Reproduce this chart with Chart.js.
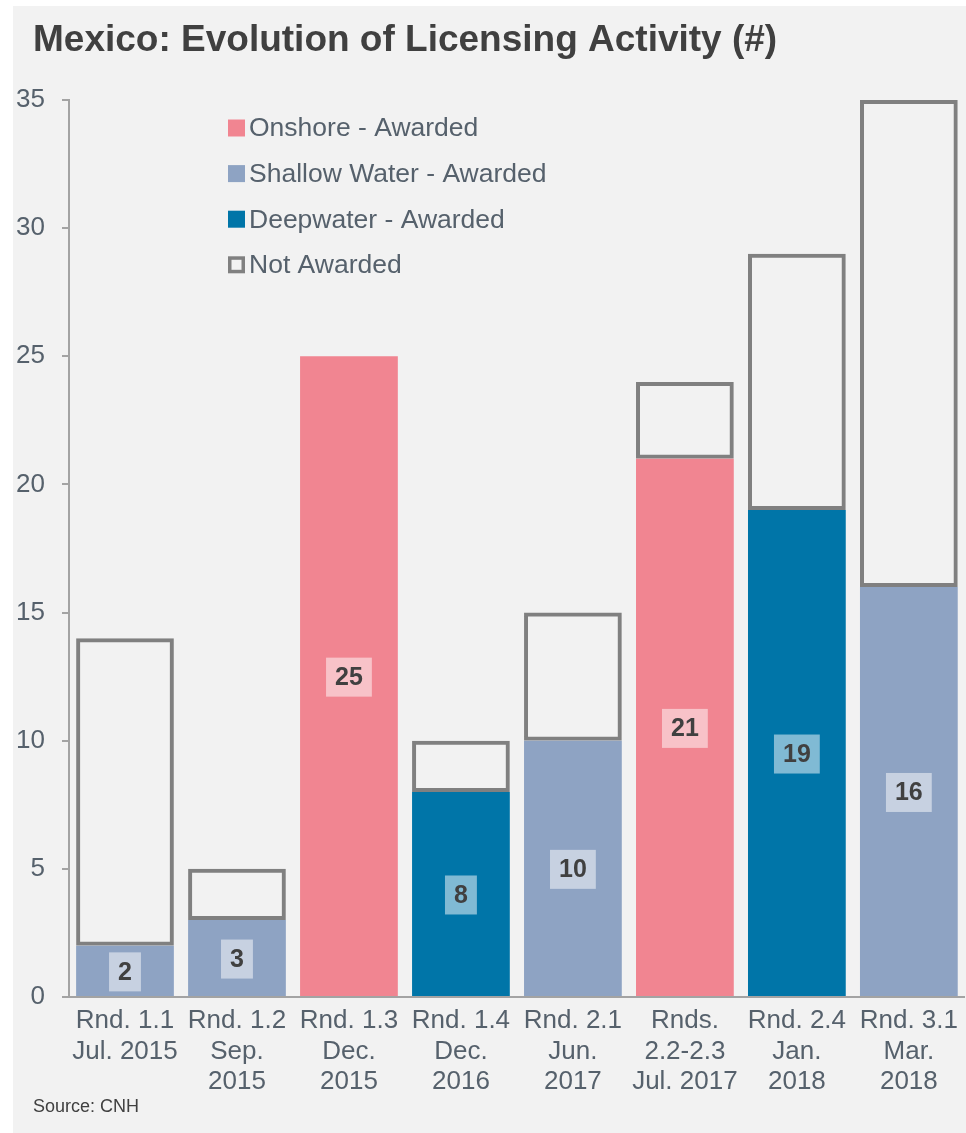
<!DOCTYPE html>
<html>
<head>
<meta charset="utf-8">
<script src="https://cdn.jsdelivr.net/npm/chart.js@4"></script>
<style>
  html, body { margin: 0; padding: 0; background: #ffffff; overflow: hidden; }
  .wrap { position: absolute; left: 13px; top: 6px; width: 954px; height: 1127px; background: #f2f2f2; }
</style>
</head>
<body>
<div class="wrap"><canvas id="licensing"></canvas></div>
<script>
const FONT = "'Liberation Sans', Arial, sans-serif";

/* ---------- Data ---------- */
const rounds = [
  ["Rnd. 1.1", "Jul. 2015"],
  ["Rnd. 1.2", "Sep.", "2015"],
  ["Rnd. 1.3", "Dec.", "2015"],
  ["Rnd. 1.4", "Dec.", "2016"],
  ["Rnd. 2.1", "Jun.", "2017"],
  ["Rnds.", "2.2-2.3", "Jul. 2017"],
  ["Rnd. 2.4", "Jan.", "2018"],
  ["Rnd. 3.1", "Mar.", "2018"]
];
const onshoreAwarded  = [0, 0, 25, 0, 0, 21, 0, 0];
const shallowAwarded  = [2, 3, 0, 0, 10, 0, 0, 16];
const deepAwarded     = [0, 0, 0, 8, 0, 0, 19, 0];
const notAwarded      = [12, 2, 0, 2, 5, 3, 10, 19];
const yTicks          = [0, 5, 10, 15, 20, 25, 30, 35];

/* ---------- Value boxes on the awarded segment ---------- */
const valueBoxPlugin = {
  id: "valueBoxes",
  afterDatasetsDraw(chart) {
    const { ctx } = chart;
    ctx.save();
    ctx.font = `bold 25px ${FONT}`;
    ctx.textAlign = "center";
    ctx.textBaseline = "middle";
    [0, 1, 2].forEach(di => {
      const meta = chart.getDatasetMeta(di);
      const vals = chart.data.datasets[di].data;
      meta.data.forEach((bar, i) => {
        const v = vals[i];
        if (!v) return;
        const { x, y, base } = bar.getProps(["x", "y", "base"], true);
        const cy = (y + base) / 2 + 1;
        const txt = String(v);
        const w = ctx.measureText(txt).width + 18;
        const h = 39;
        ctx.fillStyle = "rgba(255,255,255,0.5)";
        ctx.fillRect(x - w / 2, cy - h / 2, w, h);
        ctx.fillStyle = "#404040";
        ctx.fillText(txt, x, cy + 1);
      });
    });
    ctx.restore();
  }
};

/* ---------- Legend inside the plot, stacked vertically ---------- */
const innerLegendPlugin = {
  id: "innerLegend",
  afterDraw(chart, args, opts) {
    const { ctx, chartArea } = chart;
    const x0 = chartArea.left + opts.dx;
    let y = chartArea.top + opts.dy;
    ctx.save();
    ctx.font = `26.5px ${FONT}`;
    ctx.textBaseline = "middle";
    ctx.textAlign = "left";
    chart.data.datasets.forEach(ds => {
      const s = 17;
      if (ds.borderWidth) {
        ctx.fillStyle = "#f2f2f2";
        ctx.fillRect(x0, y - s / 2, s, s);
        ctx.strokeStyle = ds.borderColor;
        ctx.lineWidth = 3.5;
        ctx.strokeRect(x0 + 1.75, y - s / 2 + 1.75, s - 3.5, s - 3.5);
      } else {
        ctx.fillStyle = ds.backgroundColor;
        ctx.fillRect(x0, y - s / 2, s, s);
      }
      ctx.fillStyle = "#56616c";
      ctx.fillText(ds.label, x0 + 21, y + 1);
      y += opts.gap;
    });
    ctx.restore();
  }
};

/* ---------- Title and source note (left-indented text) ---------- */
const headerFooterPlugin = {
  id: "headerFooter",
  afterDraw(chart, args, opts) {
    const { ctx } = chart;
    ctx.save();
    ctx.textBaseline = "middle";
    ctx.textAlign = "left";
    ctx.fillStyle = "#404040";
    ctx.font = `bold 37px ${FONT}`;
    ctx.fillText(opts.title, 20, 35);
    ctx.font = `18px ${FONT}`;
    ctx.fillText(opts.source, 20, 1101);
    ctx.restore();
  }
};

const axisGray = "#a3a3a3";
const textGray = "#56616c";

new Chart(document.getElementById("licensing"), {
  type: "bar",
  data: {
    labels: rounds,
    datasets: [
      { label: "Onshore - Awarded", data: onshoreAwarded, backgroundColor: "#F18591" },
      { label: "Shallow Water - Awarded", data: shallowAwarded, backgroundColor: "#8EA3C3" },
      { label: "Deepwater - Awarded", data: deepAwarded, backgroundColor: "#0075A8" },
      { label: "Not Awarded", data: notAwarded, backgroundColor: "rgba(0,0,0,0)",
        borderColor: "#808080", borderWidth: 4, borderSkipped: false }
    ]
  },
  options: {
    responsive: true,
    maintainAspectRatio: false,
    animation: false,
    layout: { padding: { left: 0, right: 0, top: 94, bottom: 0 } },
    datasets: { bar: { barPercentage: 0.873, categoryPercentage: 1 } },
    scales: {
      x: {
        stacked: true,
        grid: { display: false, drawTicks: false },
        border: { display: true, color: axisGray, width: 2 },
        ticks: { color: textGray, padding: 9, maxRotation: 0, autoSkip: false,
                 font: { family: FONT, size: 26, lineHeight: 1.17 } },
        afterFit(scale) { scale.height = 136; }
      },
      y: {
        stacked: true,
        min: 0,
        max: 35,
        afterBuildTicks(scale) { scale.ticks = yTicks.map(v => ({ value: v })); },
        grid: { drawOnChartArea: false, drawTicks: true, tickLength: 7, color: axisGray, lineWidth: 2 },
        border: { display: true, color: axisGray, width: 2 },
        ticks: { color: textGray, padding: 17, font: { family: FONT, size: 26 } },
        afterFit(scale) { scale.width = 56; }
      }
    },
    plugins: {
      legend: { display: false },
      tooltip: { enabled: false },
      title: { display: false },
      innerLegend: { dx: 159, dy: 28, gap: 45.6 },
      headerFooter: {
        title: "Mexico: Evolution of Licensing Activity (#)",
        source: "Source: CNH"
      }
    }
  },
  plugins: [valueBoxPlugin, innerLegendPlugin, headerFooterPlugin]
});
</script>
</body>
</html>
